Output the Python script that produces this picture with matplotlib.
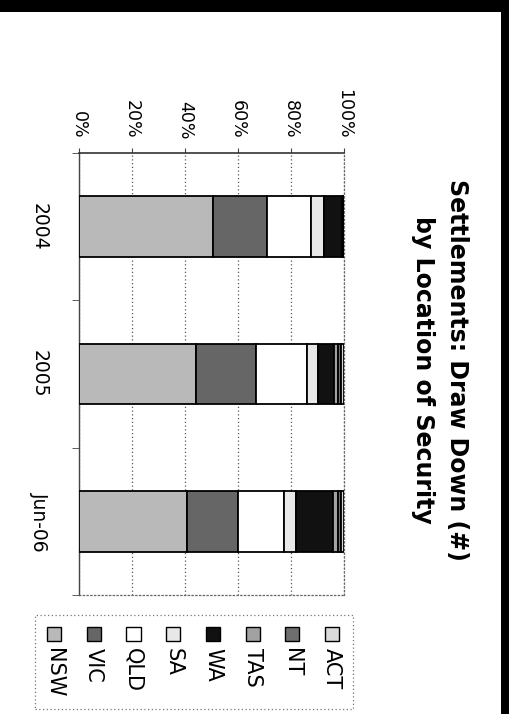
import numpy as np
import matplotlib
matplotlib.use('Agg')
import matplotlib.pyplot as plt
from matplotlib.patches import Rectangle

# Share of settlements by state, per period (%)
periods = ['2004', '2005', 'Jun-06']
states = ['NSW', 'VIC', 'QLD', 'SA', 'WA', 'TAS', 'NT', 'ACT']
nsw = [50.7, 44.0, 40.6]
vic = [20.2, 22.8, 19.5]
qld = [16.6, 19.4, 17.4]
sa = [5.0, 3.8, 4.4]
wa = [6.7, 6.3, 14.1]
tas = [0.4, 1.5, 1.8]
nt = [0.2, 1.2, 1.2]
act = [0.2, 1.0, 1.0]
pct_ticks = [0, 20, 40, 60, 80, 100]

series = [nsw, vic, qld, sa, wa, tas, nt, act]
fills = ['#b9b9b9', '#666666', '#ffffff', '#e8e8e8', '#111111',
         '#a2a2a2', '#6f6f6f', '#dadada']

W, H = 510, 714
fig = plt.figure(figsize=(W / 100, H / 100), dpi=100)
fig.patch.set_facecolor('white')


def fx(px):
    return px / W


def fy(py):
    return 1 - py / H


# scanned page edges
fig.add_artist(Rectangle((0, fy(12)), 1, 12 / H, transform=fig.transFigure,
                         facecolor='black', edgecolor='none'))
fig.add_artist(Rectangle((fx(501), 0), 9 / W, 1, transform=fig.transFigure,
                         facecolor='black', edgecolor='none'))

ax = fig.add_axes([fx(79), fy(595), fx(344) - fx(79), fy(153) - fy(595)])

data = np.array(series, dtype=float)
data = data / data.sum(axis=0) * 100
y = np.arange(len(periods))
left = np.zeros(len(periods))
for vals, col in zip(data, fills):
    ax.barh(y, vals, left=left, height=0.41, color=col,
            edgecolor='black', linewidth=1.3, zorder=3)
    left += vals

ax.set_xlim(0, 100)
ax.set_ylim(len(periods) - 0.5, -0.5)

# value axis along the top, labels turned with the page
ax.xaxis.tick_top()
ax.set_xticks(pct_ticks)
ax.set_xticklabels([f'{t}%' for t in pct_ticks], rotation=-90,
                   fontsize=12.5, va='bottom', ha='center')
ax.tick_params(axis='x', length=3.5, pad=6.5, color='#444444')
ax.grid(axis='x', linestyle=(0, (1, 2)), color='#555555', linewidth=0.9,
        zorder=0)

# category axis: labels at bar centres, ticks between categories
ax.set_yticks(y)
ax.set_yticklabels(periods, rotation=-90, fontsize=13.5,
                   va='center', ha='right')
ax.tick_params(axis='y', which='major', length=0, pad=22)
ax.set_yticks(np.arange(len(periods) + 1) - 0.5, minor=True)
ax.tick_params(axis='y', which='minor', length=5, color='#444444')

for side in ['right', 'bottom']:
    ax.spines[side].set_linestyle((0, (1, 2)))
    ax.spines[side].set_color('#666666')
    ax.spines[side].set_linewidth(0.9)
ax.spines['top'].set_color('#333333')
ax.spines['top'].set_linewidth(1.2)
ax.spines['left'].set_color('#444444')
ax.spines['left'].set_linewidth(1.0)

fig.text(fx(440), fy(370),
         'Settlements: Draw Down (#)\nby Location of Security',
         rotation=-90, ha='center', va='center', multialignment='center',
         fontsize=17, fontweight='bold', linespacing=1.55)

# legend, top segment first, laid out along the page
fig.add_artist(Rectangle((fx(35), fy(709)), fx(353) - fx(35), fy(615) - fy(709),
                         transform=fig.transFigure, facecolor='white',
                         edgecolor='#777777', linewidth=0.9,
                         linestyle=(0, (1, 2))))
order = list(range(len(states)))[::-1]
for i, k in enumerate(order):
    cx = 332 - i * 39.7
    fig.add_artist(Rectangle((fx(cx - 7), fy(641)), 14 / W, 14 / H,
                             transform=fig.transFigure, facecolor=fills[k],
                             edgecolor='black', linewidth=1.0))
    fig.text(fx(cx), fy(648), states[k], rotation=-90, ha='center',
             va='top', fontsize=15)

fig.savefig('out.png', dpi=100)
